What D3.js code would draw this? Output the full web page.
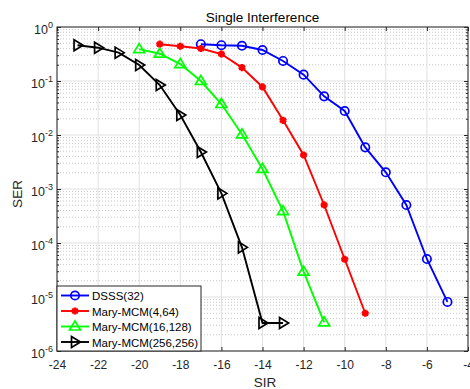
<!DOCTYPE html>
<html><head><meta charset="utf-8">
<script src="https://cdn.jsdelivr.net/npm/d3@7"></script>
<style>
body{margin:0;background:#fff;}
text{font-family:"Liberation Sans",Arial,sans-serif;}
</style></head>
<body>
<svg id="c" width="470" height="389"></svg>
<script>
const title = "Single Interference";
const xLabel = "SIR";
const yLabel = "SER";
const xTicks = [-24,-22,-20,-18,-16,-14,-12,-10,-8,-6,-4];
const yTickExps = [0,-1,-2,-3,-4,-5,-6];

const dsssX = [-17,-16,-15,-14,-13,-12,-11,-10,-9,-8,-7,-6,-5];
const dsssY = [0.48,0.46,0.45,0.375,0.235,0.131,0.052,0.0278,0.0059,0.00204,5.06e-4,5.06e-5,8.1e-6];
const mcm4X = [-19,-18,-17,-16,-15,-14,-13,-12,-11,-10,-9];
const mcm4Y = [0.48,0.44,0.40,0.316,0.177,0.0775,0.0187,0.00426,5.06e-4,5.0e-5,5.0e-6];
const mcm16X = [-20,-19,-18,-17,-16,-15,-14,-13,-12,-11];
const mcm16Y = [0.39,0.32,0.206,0.1,0.0375,0.0103,0.00235,3.9e-4,2.95e-5,3.4e-6];
const mcm256X = [-23,-22,-21,-20,-19,-18,-17,-16,-15,-14,-13];
const mcm256Y = [0.46,0.414,0.335,0.198,0.0843,0.0235,0.00484,8.3e-4,8.3e-5,3.3e-6,3.3e-6];

const seriesNames = ["DSSS(32)","Mary-MCM(4,64)","Mary-MCM(16,128)","Mary-MCM(256,256)"];
const seriesColors = ["#0000ff","#ff0000","#00ff00","#000000"];
const seriesMarkers = ["circle","star","triUp","triRight"];
const seriesX = [dsssX,mcm4X,mcm16X,mcm256X];
const seriesY = [dsssY,mcm4Y,mcm16Y,mcm256Y];

const L=57, R=468, T=27, B=351;
const svg = d3.select("#c");
const x = d3.scaleLinear().domain([-24,-4]).range([L,R]);
const y = d3.scaleLog().domain([1e-6,1]).range([B,T]);

// minor grid (log)
const g = svg.append("g");
for (let e=-6;e<0;e++){
  for (let k=2;k<=9;k++){
    const v=k*Math.pow(10,e);
    g.append("line").attr("x1",L).attr("x2",R).attr("y1",y(v)).attr("y2",y(v))
     .attr("stroke","#c8c8c8").attr("stroke-width",1).attr("stroke-dasharray","1,2");
  }
}
// major grid
xTicks.forEach(t=>{ g.append("line").attr("x1",x(t)).attr("x2",x(t)).attr("y1",T).attr("y2",B).attr("stroke","#e0e0e0").attr("stroke-width",1);});
yTickExps.forEach(e=>{ const v=Math.pow(10,e); g.append("line").attr("x1",L).attr("x2",R).attr("y1",y(v)).attr("y2",y(v)).attr("stroke","#e0e0e0").attr("stroke-width",1);});

// axes with inward ticks
const axB = d3.axisBottom(x).tickValues(xTicks).tickSizeInner(-4).tickSizeOuter(0).tickPadding(9).tickFormat(d=>d);
const axT = d3.axisTop(x).tickValues(xTicks).tickSizeInner(-4).tickSizeOuter(0).tickFormat("");
const minorVals=[]; for(let e=-6;e<0;e++) for(let k=2;k<=9;k++) minorVals.push(k*Math.pow(10,e));
const majorVals = yTickExps.map(e=>Math.pow(10,e));
function styleAx(sel){ sel.selectAll(".domain").remove(); sel.selectAll("line").attr("stroke","#262626"); sel.selectAll("text").attr("fill","#262626").attr("font-size","12px"); }
svg.append("g").attr("transform",`translate(0,${B})`).call(axB).call(styleAx);
svg.append("g").attr("transform",`translate(0,${T})`).call(axT).call(styleAx);
svg.append("g").attr("transform",`translate(${L},0)`).call(d3.axisLeft(y).tickValues(minorVals).tickSizeInner(-2).tickSizeOuter(0).tickFormat("")).call(styleAx);
svg.append("g").attr("transform",`translate(${R},0)`).call(d3.axisRight(y).tickValues(minorVals).tickSizeInner(-2).tickSizeOuter(0).tickFormat("")).call(styleAx);
svg.append("g").attr("transform",`translate(${L},0)`).call(d3.axisLeft(y).tickValues(majorVals).tickSizeInner(-4).tickSizeOuter(0).tickFormat("")).call(styleAx);
svg.append("g").attr("transform",`translate(${R},0)`).call(d3.axisRight(y).tickValues(majorVals).tickSizeInner(-4).tickSizeOuter(0).tickFormat("")).call(styleAx);

// y tick labels with superscripts
yTickExps.forEach(e=>{
  const t = svg.append("text").attr("x",L-4).attr("y",y(Math.pow(10,e))+7).attr("text-anchor","end")
   .attr("fill","#262626").attr("font-size","12.5px");
  t.append("tspan").text("10");
  t.append("tspan").attr("dy",-6).attr("font-size","9px").text(String(e));
});

// box
svg.append("rect").attr("x",L).attr("y",T).attr("width",R-L).attr("height",B-T).attr("fill","none").attr("stroke","#262626").attr("stroke-width",1);

// titles
svg.append("text").attr("x",(L+R)/2).attr("y",21.5).attr("text-anchor","middle").attr("font-size","13.5px").attr("fill","#000").text(title);
svg.append("text").attr("x",265).attr("y",387).attr("text-anchor","middle").attr("font-size","13.5px").attr("fill","#262626").text(xLabel);
svg.append("text").attr("transform",`translate(22,${(T+B)/2+5}) rotate(-90)`).attr("text-anchor","middle").attr("font-size","13.5px").attr("fill","#262626").text(yLabel);

function drawMarker(sel, type, color, cx, cy){
  if(type==="circle"){
    sel.append("circle").attr("cx",cx).attr("cy",cy).attr("r",4.2).attr("fill","none").attr("stroke",color).attr("stroke-width",1.7);
  } else if(type==="star"){
    sel.append("path").attr("d",d3.symbol(d3.symbolAsterisk,36)()).attr("transform",`translate(${cx},${cy})`).attr("fill","none").attr("stroke",color).attr("stroke-width",2.8);
  } else if(type==="triUp"){
    sel.append("path").attr("d","M0,-5.5L5.5,3.5L-5.5,3.5Z").attr("transform",`translate(${cx},${cy})`).attr("fill","none").attr("stroke",color).attr("stroke-width",1.7);
  } else if(type==="triRight"){
    sel.append("path").attr("d","M5.5,0L-3.5,-5.5L-3.5,5.5Z").attr("transform",`translate(${cx},${cy})`).attr("fill","none").attr("stroke",color).attr("stroke-width",1.7);
  }
}

const line = d3.line().x(d=>x(d[0])).y(d=>y(d[1]));
seriesX.forEach((xs,i)=>{
  const pts = xs.map((v,j)=>[v,seriesY[i][j]]);
  const sg = svg.append("g");
  sg.append("path").attr("d",line(pts)).attr("fill","none").attr("stroke",seriesColors[i]).attr("stroke-width",1.9);
  pts.forEach(p=>drawMarker(sg,seriesMarkers[i],seriesColors[i],x(p[0]),y(p[1])));
});

// legend
const lg = svg.append("g");
lg.append("rect").attr("x",L).attr("y",286).attr("width",144).attr("height",B-286).attr("fill","#fff").attr("stroke","#262626").attr("stroke-width",1);
seriesNames.forEach((n,i)=>{
  const yy = 295.5 + i*15.5;
  lg.append("line").attr("x1",61).attr("x2",89).attr("y1",yy).attr("y2",yy).attr("stroke",seriesColors[i]).attr("stroke-width",1.9);
  drawMarker(lg,seriesMarkers[i],seriesColors[i],75,yy);
  lg.append("text").attr("x",92).attr("y",yy+4.5).attr("font-size","11.5px").attr("fill","#000").text(n);
});
</script>
</body></html>
